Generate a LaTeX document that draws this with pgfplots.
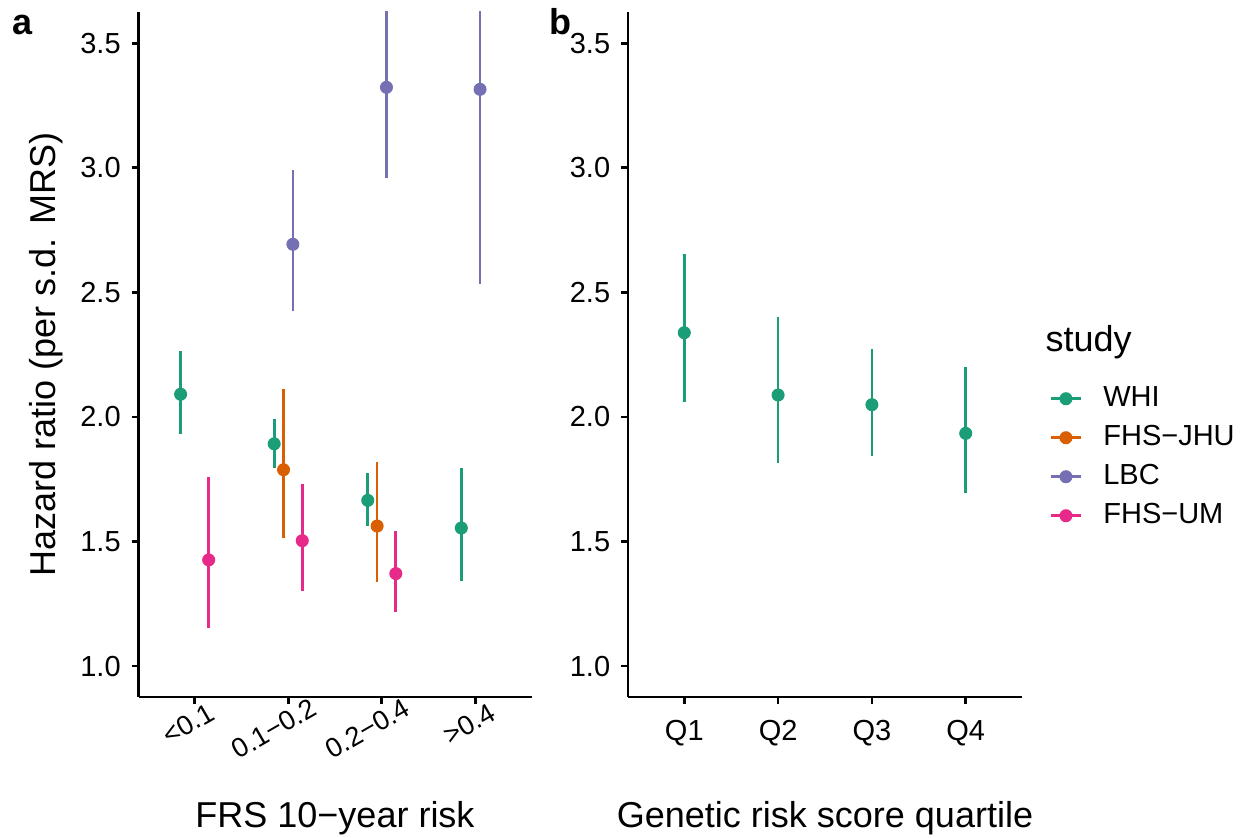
\documentclass[border=0pt]{standalone}
\usepackage{fontspec}
\setmainfont{Liberation Sans}
\usepackage{pgfplots}
\usepackage{pgfplotstable}
\pgfplotsset{compat=1.18}

\definecolor{whi}{HTML}{1B9E77}
\definecolor{jhu}{HTML}{D95F02}
\definecolor{lbc}{HTML}{7570B3}
\definecolor{um}{HTML}{E7298A}

% panel a: x = category (1..4) + dodge offset
\pgfplotstableread{
x y lo hi
0.85 2.091 1.930 2.265
1.85 1.892 1.796 1.992
2.85 1.665 1.562 1.774
3.85 1.554 1.342 1.794
}\whiA
\pgfplotstableread{
x y lo hi
1.95 1.788 1.513 2.112
2.95 1.562 1.338 1.820
}\jhuA
\pgfplotstableread{
x y lo hi
2.05 2.693 2.425 2.991
3.05 3.323 2.958 3.950
4.05 3.315 2.534 4.100
}\lbcA
\pgfplotstableread{
x y lo hi
1.15 1.426 1.154 1.760
2.15 1.503 1.302 1.731
3.15 1.371 1.218 1.543
}\umA
% panel b
\pgfplotstableread{
x y lo hi
1 2.338 2.059 2.654
2 2.088 1.814 2.400
3 2.049 1.844 2.273
4 1.934 1.696 2.202
}\whiB

\newcommand{\ticksize}{\fontsize{11.6}{13}\selectfont}
\newcommand{\titlesize}{\fontsize{14.4}{16}\selectfont}
% rotated labels sit about 3/4 along their length at the tick
\newsavebox{\labbox}
\newcommand{\cutR}[1]{\sbox{\labbox}{#1}\usebox{\labbox}\hspace*{-0.25\wd\labbox}}

\pgfplotsset{
  panel/.style={
    scale only axis, height=274pt,
    ymin=0.8756, ymax=3.6255, xmin=0.4, xmax=4.6,
    axis x line*=bottom, axis y line*=left,
    axis line style={line width=1.1pt, black, -},
    tick align=outside, major tick length=2.8pt,
    tick style={line width=1.1pt, black},
    ytick={1,1.5,2,2.5,3,3.5},
    xtick={1,2,3,4},
    tick label style={font=\ticksize, text=black},
    yticklabel style={xshift=-0.8pt, /pgf/number format/.cd, fixed, fixed zerofill, precision=1, assume math mode=true},
    every axis y label/.style={at={(axis description cs:-0.2357,0.5)}, rotate=90, anchor=center, inner sep=0pt, font=\titlesize},
    every axis x label/.style={at={(axis description cs:0.5,-0.19)}, anchor=base, inner sep=0pt, font=\titlesize},
    legend image code/.code={
      \draw[line width=1.1pt] (0pt,0pt) -- (12pt,0pt);
      \fill (6pt,0pt) circle (2.4pt);
    },
  },
  hr/.style={only marks, mark=*, mark size=2.4pt, color=#1,
    error bars/.cd, y dir=both, y explicit, error mark=none,
    error bar style={line width=1.1pt, color=#1}},
}

\begin{document}
\begin{tikzpicture}
\useasboundingbox (0,0) rectangle (502pt,334.8pt);

\begin{axis}[panel, at={(55.4pt,56pt)}, anchor=south west, width=157.2pt,
  xticklabels={\cutR{<0.1},\cutR{0.1−0.2},\cutR{0.2−0.4},\cutR{>0.4}},
  xticklabel style={font=\fontsize{10.9}{12}\selectfont, rotate=30, anchor=north east, inner sep=0pt, xshift=-0.5pt, yshift=-1.6pt},
  xlabel={FRS 10−year risk},
  ylabel={Hazard ratio (per s.d. MRS)},
  legend style={at={(axis description cs:2.317,0.350)}, anchor=west,
    draw=none, fill=none, inner sep=0pt, font=\ticksize,
    row sep=4.8pt, column sep=8.4pt,
    nodes={inner sep=0pt, text height=8.4pt, text depth=2.4pt}},
  legend cell align=left,
]
\addplot[hr=whi] table[x=x, y=y, y error plus expr=\thisrow{hi}-\thisrow{y}, y error minus expr=\thisrow{y}-\thisrow{lo}] {\whiA};
\addlegendentry{WHI}
\addplot[hr=jhu] table[x=x, y=y, y error plus expr=\thisrow{hi}-\thisrow{y}, y error minus expr=\thisrow{y}-\thisrow{lo}] {\jhuA};
\addlegendentry{FHS−JHU}
\addplot[hr=lbc] table[x=x, y=y, y error plus expr=\thisrow{hi}-\thisrow{y}, y error minus expr=\thisrow{y}-\thisrow{lo}] {\lbcA};
\addlegendentry{LBC}
\addplot[hr=um] table[x=x, y=y, y error plus expr=\thisrow{hi}-\thisrow{y}, y error minus expr=\thisrow{y}-\thisrow{lo}] {\umA};
\addlegendentry{FHS−UM}
\end{axis}

\begin{axis}[panel, at={(251.2pt,56pt)}, anchor=south west, width=157.6pt,
  xticklabels={Q1,Q2,Q3,Q4},
  xticklabel style={yshift=-3pt},
  xlabel={Genetic risk score quartile},
]
\addplot[hr=whi] table[x=x, y=y, y error plus expr=\thisrow{hi}-\thisrow{y}, y error minus expr=\thisrow{y}-\thisrow{lo}] {\whiB};
\end{axis}

\node[anchor=base west, inner sep=0pt, font=\titlesize\bfseries] at (4.8pt,320.8pt) {a};
\node[anchor=base west, inner sep=0pt, font=\titlesize\bfseries] at (219.6pt,320.8pt) {b};
\node[anchor=base west, inner sep=0pt, font=\titlesize] at (418pt,194pt) {study};
\end{tikzpicture}
\end{document}
